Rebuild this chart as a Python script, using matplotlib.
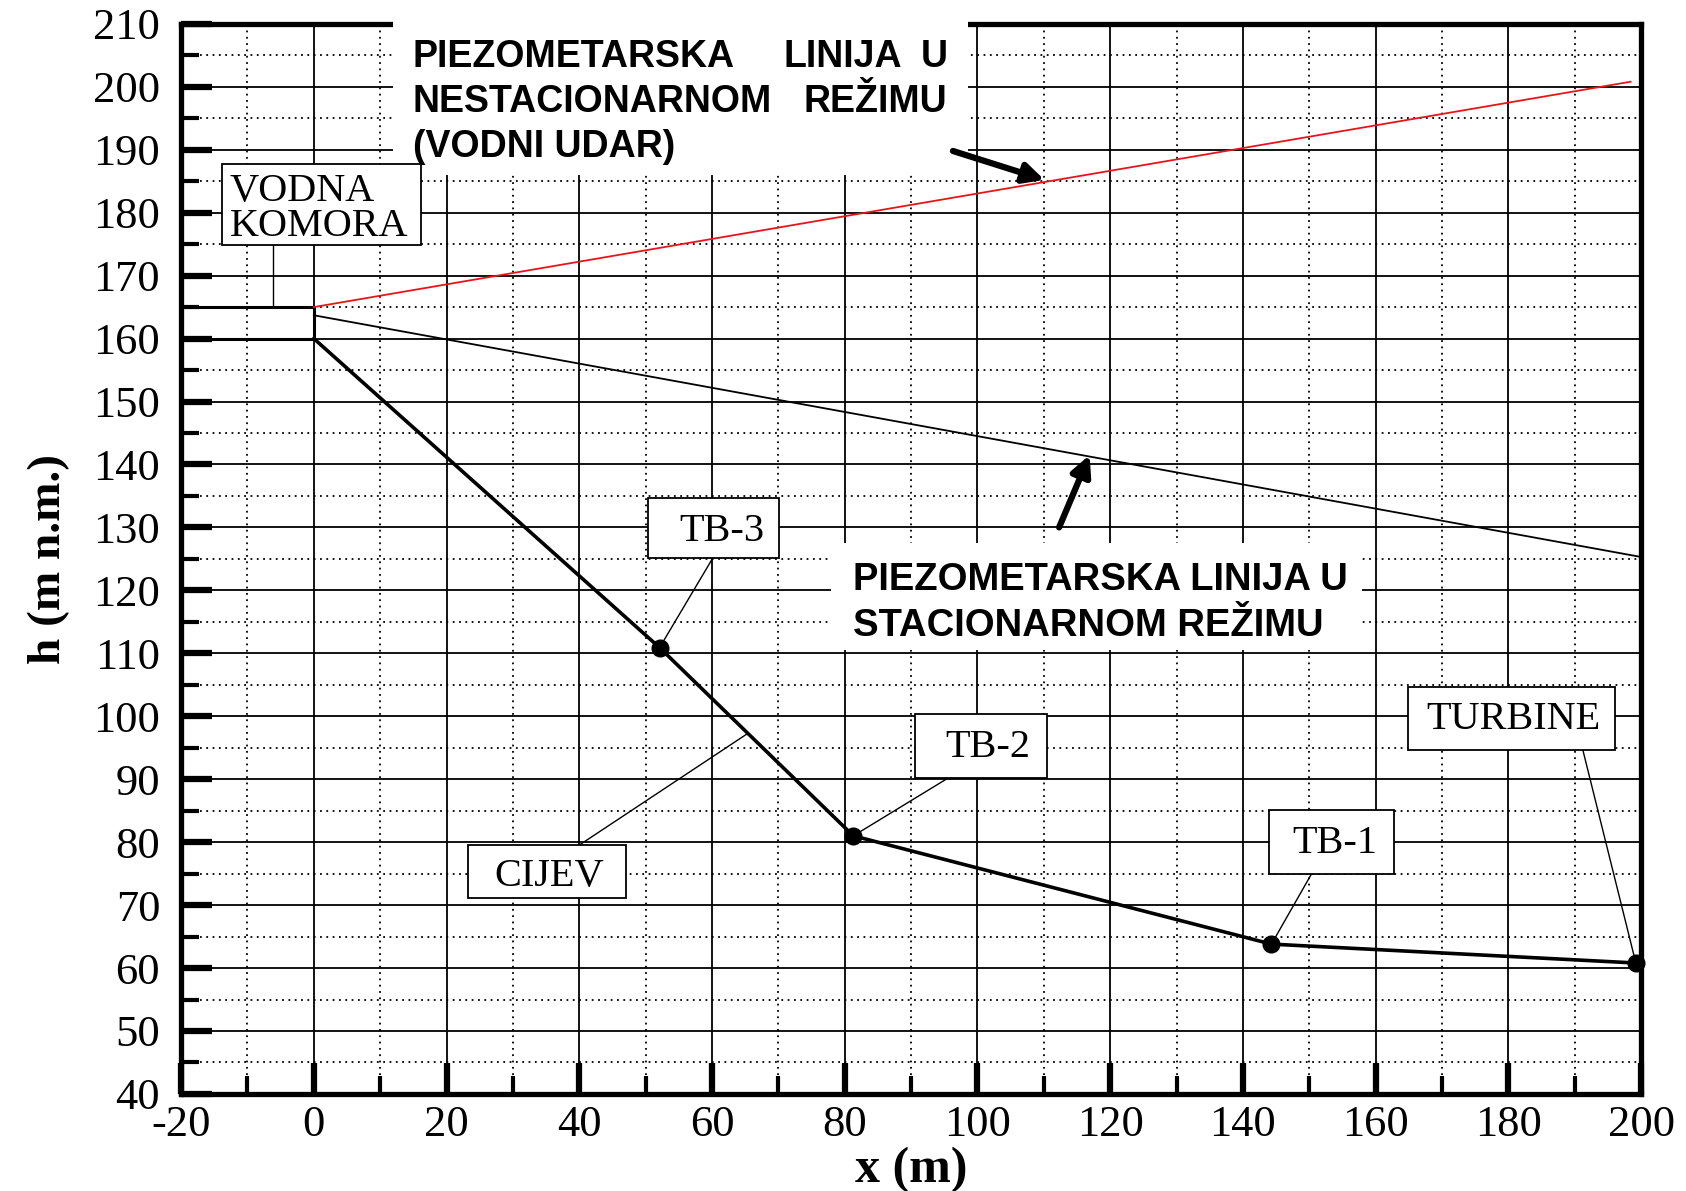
import matplotlib as mpl
import matplotlib.pyplot as plt
import numpy as np
from matplotlib.patches import Rectangle

mpl.rcParams["font.family"] = "Liberation Serif"
mpl.rcParams["axes.unicode_minus"] = False

# water chamber outline (x, h)
komora_x = [-20, 0, 0, -20]
komora_h = [165, 165, 160, 160]

# penstock profile and measuring points
pipe_x = [0, 52.1, 81.3, 144.3, 199.2]
pipe_h = [160, 110.9, 81.0, 63.8, 60.8]
point_names = ["TB-3", "TB-2", "TB-1", "TURBINE"]

# piezometric lines
stac_x = [0, 200]
stac_h = [163.7, 125.3]
nestac_x = [0, 198.4]
nestac_h = [165.0, 200.8]

x_ticks = np.arange(-20, 201, 20)
h_ticks = np.arange(40, 211, 10)

fig = plt.figure(figsize=(16.86, 11.91), dpi=100)
ax = fig.add_axes([0.1074, 0.0815, 0.866, 0.8985])

ax.set_xlim(-20, 200)
ax.set_ylim(40, 210)
ax.set_xticks(x_ticks)
ax.set_yticks(h_ticks)
ax.set_xticks(np.arange(-10, 200, 20), minor=True)
ax.set_yticks(np.arange(45, 210, 10), minor=True)
ax.grid(which="major", color="black", lw=1.3)
ax.grid(which="minor", color="black", lw=1.3, linestyle=(0, (1, 2.5)))
ax.tick_params(which="both", direction="in", top=False, right=False,
               labelsize=32, colors="black")
ax.tick_params(which="major", length=22, width=4.5)
ax.tick_params(which="minor", length=13, width=3)
ax.tick_params(axis="y", which="major", pad=15)
ax.tick_params(axis="x", which="major", pad=8)
for s in ax.spines.values():
    s.set_linewidth(3.8)

ax.set_xlabel("x (m)", fontsize=36, fontweight="bold")
ax.set_ylabel("h (m n.m.)", fontsize=34, fontweight="bold")
ax.xaxis.set_label_coords(0.5, -0.05)
ax.yaxis.set_label_coords(-0.076, 0.5)

# lines
ax.plot(komora_x, komora_h, color="black", lw=2.2, zorder=3)
ax.plot(nestac_x, nestac_h, color="#e8141c", lw=1.3, zorder=3)
ax.plot(stac_x, stac_h, color="black", lw=1.3, zorder=3, clip_on=False)
ax.plot(pipe_x, pipe_h, color="black", lw=2.6, zorder=3)
ax.plot(pipe_x[1:], pipe_h[1:], "o", color="black", ms=12, zorder=4,
        clip_on=False)

box_kw = dict(facecolor="white", edgecolor="black", lw=1.3, zorder=6)
lead_kw = dict(color="black", lw=1.0, zorder=5)

# labelled boxes: (x0, x1, y0, y1), text x, text baseline, leader start
boxes = [
    ((50.3, 70.1, 125.1, 134.7), 61.5, 127.8, (60.1, 125.1)),
    ((90.6, 110.4, 90.2, 100.3), 101.5, 93.6, (95.6, 90.2)),
    ((144.0, 162.7, 74.9, 85.1), 153.8, 78.3, (150.3, 74.9)),
    ((164.8, 196.1, 94.7, 104.6), 180.8, 97.9, (191.2, 94.7)),
]
for (bb, tx, ty, lead), name, px, ph in zip(boxes, point_names,
                                            pipe_x[1:], pipe_h[1:]):
    x0, x1, y0, y1 = bb
    ax.add_patch(Rectangle((x0, y0), x1 - x0, y1 - y0, **box_kw))
    ax.text(tx, ty, name, fontsize=29, ha="center", va="baseline", zorder=7)
    ax.plot([lead[0], px], [lead[1], ph], **lead_kw)

# CIJEV label
cx = 65.4
ax.add_patch(Rectangle((23.2, 71.1), 23.9, 8.5, **box_kw))
ax.text(35.4, 73.1, "CIJEV", fontsize=29, ha="center", va="baseline",
        zorder=7)
ax.plot([40.1, cx], [79.6, np.interp(cx, pipe_x, pipe_h)], **lead_kw)

# VODNA KOMORA label
ax.add_patch(Rectangle((-13.8, 174.8), 30.0, 13.0, **box_kw))
ax.text(-12.7, 181.8, "VODNA", fontsize=29, ha="left", va="baseline",
        zorder=7)
ax.text(-12.7, 176.3, "KOMORA", fontsize=29, ha="left", va="baseline",
        zorder=7)
ax.plot([-6.2, -6.2], [174.8, komora_h[0]], **lead_kw)

# white areas behind the bold notes
ax.add_patch(Rectangle((12.0, 186.0), 86.6, 28.0, facecolor="white",
                       edgecolor="none", zorder=3.5, clip_on=False))
ax.add_patch(Rectangle((78.0, 110.5), 80.0, 17.0, facecolor="white",
                       edgecolor="none", zorder=3.5))

note = dict(family="Liberation Sans", fontweight="bold", color="black",
            va="baseline", zorder=8)
ax.text(14.9, 203.2, "PIEZOMETARSKA", fontsize=27, ha="left", **note)
ax.text(70.8, 203.2, "LINIJA", fontsize=27, ha="left", **note)
ax.text(95.5, 203.2, "U", fontsize=27, ha="right", **note)
ax.text(14.9, 196.0, "NESTACIONARNOM", fontsize=27, ha="left", **note)
ax.text(95.5, 196.0, "REŽIMU", fontsize=27, ha="right", **note)
ax.text(14.9, 188.8, "(VODNI UDAR)", fontsize=27, ha="left", **note)

ax.text(81.2, 120.0, "PIEZOMETARSKA LINIJA U", fontsize=27.5, ha="left",
        **note)
ax.text(81.2, 112.8, "STACIONARNOM REŽIMU", fontsize=27.5, ha="left", **note)

arrow = dict(arrowstyle="-|>", lw=4.5, color="black", mutation_scale=30,
             shrinkA=0, shrinkB=0)
ax.annotate("", xy=(110.1, 185.2), xytext=(96.3, 189.8), arrowprops=arrow,
            zorder=9)
ax.annotate("", xy=(116.9, 141.5), xytext=(112.3, 130.0), arrowprops=arrow,
            zorder=9)

fig.savefig("out.png", dpi=100, facecolor="white")
